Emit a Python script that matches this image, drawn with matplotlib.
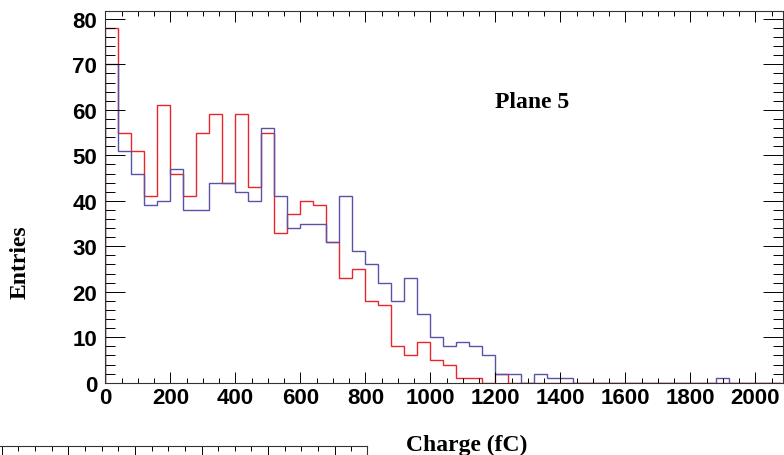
import numpy as np
import matplotlib
matplotlib.use("Agg")
import matplotlib.pyplot as plt
from matplotlib.ticker import MultipleLocator

# 40 fC bins, 0 - 2080 fC
bin_edges = np.arange(0, 2081, 40)

red_counts = [78, 55, 51, 41, 61, 46, 41, 55, 59, 44,
              59, 43, 55, 33, 37, 40, 39, 31, 23, 25,
              18, 17, 8, 6, 9, 5, 4, 1, 1, 0,
              2, 0, 0, 0, 0, 0, 0, 0, 0, 0,
              0, 0, 0, 0, 0, 0, 0, 0, 0, 0,
              0, 0]
blue_counts = [70, 51, 46, 39, 40, 47, 38, 38, 44, 44,
               42, 40, 56, 41, 34, 35, 35, 31, 41, 29,
               26, 22, 18, 23, 15, 10, 8, 9, 8, 6,
               2, 2, 0, 2, 1, 1, 0, 0, 0, 0,
               0, 0, 0, 0, 0, 0, 0, 1, 0, 0,
               0, 0]

x_ticks = [0, 200, 400, 600, 800, 1000, 1200, 1400, 1600, 1800, 2000]
y_ticks = [0, 10, 20, 30, 40, 50, 60, 70, 80]

W, H = 784, 456
fig = plt.figure(figsize=(W / 100, H / 100), dpi=100)

# main pad
l, r, t, b = 105.5, 783.0, 11.7, 383.7
ax = fig.add_axes([l / W, 1 - b / H, (r - l) / W, (b - t) / H])

ax.stairs(red_counts, bin_edges, color="#e8262b", lw=1.0)
ax.stairs(blue_counts, bin_edges, color="#5853a6", lw=1.0)

ax.set_xlim(0, 2085)
ax.set_ylim(0, 81.8)
ax.set_xticks(x_ticks)
ax.set_yticks(y_ticks)
ax.xaxis.set_minor_locator(MultipleLocator(50))
ax.yaxis.set_minor_locator(MultipleLocator(2))

ax.tick_params(axis="x", which="major", direction="in", length=7.9, width=0.7,
               top=True, labelsize=16, pad=3)
ax.tick_params(axis="x", which="minor", direction="in", length=3.6, width=0.7, top=True)
ax.tick_params(axis="y", which="major", direction="in", length=14.4, width=0.7,
               right=True, labelsize=16, pad=6)
ax.tick_params(axis="y", which="minor", direction="in", length=7.2, width=0.7, right=True)
for lab in ax.get_xticklabels() + ax.get_yticklabels():
    lab.set_fontfamily("Liberation Sans")
    lab.set_fontweight("bold")
for sp in ax.spines.values():
    sp.set_linewidth(0.8)
    sp.set_color("#333333")

serif = {"family": "Liberation Serif", "weight": "bold", "size": 17}
fig.text(466.7 / W, 1 - 445 / H, "Charge (fC)", ha="center", va="center", **serif)
fig.text(20 / W, 1 - 262 / H, "Entries", ha="center", va="center", rotation=90, **serif)
fig.text(531.7 / W, 1 - 102 / H, "Plane 5", ha="center", va="center", **serif)

# top edge of the next pad, cut off by the image border
p_left, p_right, p_top = -131.5, 366.7, 446.7
ax2 = fig.add_axes([p_left / W, 1 - 800 / H, (p_right - p_left) / W, (800 - p_top) / H])
ax2.set_xlim(-2, 5.48)
ax2.set_ylim(0, 10)
ax2.set_xticks([-2, -1, 0, 1, 2, 3, 4, 5])
ax2.xaxis.set_minor_locator(MultipleLocator(0.25))
ax2.set_yticks([10])
ax2.tick_params(axis="x", which="major", direction="in", length=7.2, width=0.7,
                top=True, bottom=False, labelbottom=False)
ax2.tick_params(axis="x", which="minor", direction="in", length=3.6, width=0.7,
                top=True, bottom=False)
ax2.tick_params(axis="y", direction="in", length=10, width=0.7, left=False,
                right=True, labelleft=False)
for sp in ax2.spines.values():
    sp.set_linewidth(0.8)
    sp.set_color("#333333")
ax2.patch.set_alpha(0)

fig.savefig("out.png", dpi=100)
